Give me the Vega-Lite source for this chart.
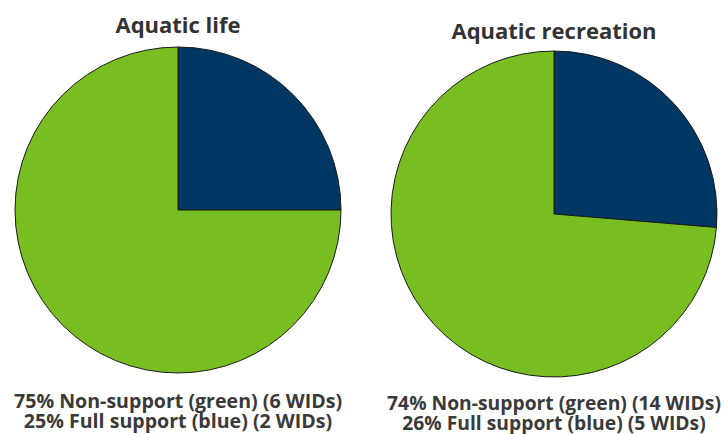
{
  "$schema": "https://vega.github.io/schema/vega-lite/v6.json",
  "background": "white",
  "padding": {"left": 11, "top": 15, "right": 5, "bottom": 5},
  "data": {"values": [
    {"chart": "Aquatic life", "status": "Full support", "wids": 2},
    {"chart": "Aquatic life", "status": "Non-support", "wids": 6},
    {"chart": "Aquatic recreation", "status": "Full support", "wids": 5},
    {"chart": "Aquatic recreation", "status": "Non-support", "wids": 14}
  ]},
  "spacing": 42,
  "hconcat": [
    {
      "title": {"text": ["75% Non-support (green) (6 WIDs)", "25% Full support (blue) (2 WIDs)"], "orient": "bottom", "anchor": "middle", "offset": 18, "fontSize": 19.6, "fontWeight": "bold", "lineHeight": 20, "color": "#3a3a3a"},
      "vconcat": [
        {
          "title": {"text": "Aquatic life", "anchor": "middle", "offset": 7},
          "width": 334, "height": 318,
          "transform": [{"filter": "datum.chart === 'Aquatic life'"}],
          "mark": {"type": "arc", "outerRadius": 163, "stroke": "#1a1a1a", "strokeWidth": 1},
          "encoding": {
            "theta": {"field": "wids", "type": "quantitative", "stack": true},
            "color": {"field": "status", "type": "nominal", "scale": {"domain": ["Full support", "Non-support"], "range": ["#003863", "#78BE21"]}, "legend": null}
          }
        }
      ]
    },
    {
      "title": {"text": ["74% Non-support (green) (14 WIDs)", "26% Full support (blue) (5 WIDs)"], "orient": "bottom", "anchor": "middle", "offset": 16, "fontSize": 19.3, "fontWeight": "bold", "lineHeight": 20, "color": "#3a3a3a"},
      "vconcat": [
        {
          "title": {"text": "Aquatic recreation", "anchor": "middle", "offset": 7, "dy": 2},
          "width": 334, "height": 326,
          "transform": [{"filter": "datum.chart === 'Aquatic recreation'"}],
          "mark": {"type": "arc", "outerRadius": 163, "stroke": "#1a1a1a", "strokeWidth": 1},
          "encoding": {
            "theta": {"field": "wids", "type": "quantitative", "stack": true},
            "color": {"field": "status", "type": "nominal", "scale": {"domain": ["Full support", "Non-support"], "range": ["#003863", "#78BE21"]}, "legend": null}
          }
        }
      ]
    }
  ],
  "config": {
    "view": {"stroke": null},
    "title": {"font": "Open Sans", "fontSize": 22, "fontWeight": "bold", "color": "#333333"},
    "concat": {"spacing": 0}
  }
}
